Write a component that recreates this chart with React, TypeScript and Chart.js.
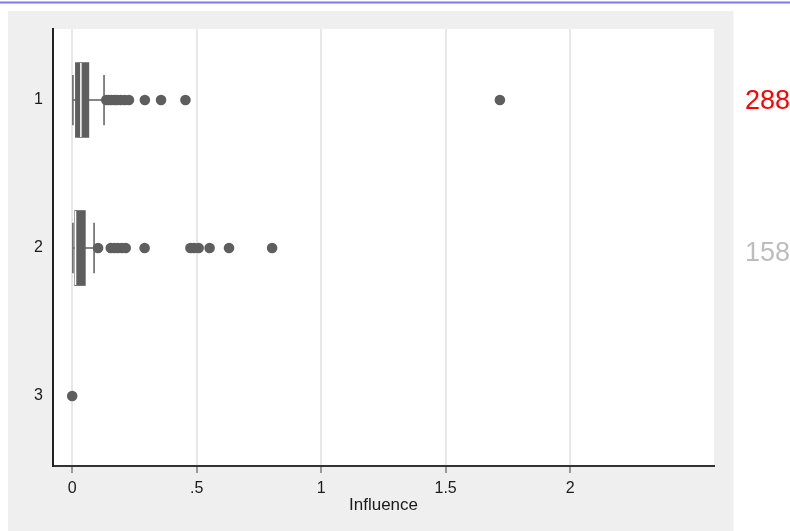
import React, { useEffect, useRef } from 'react';
import { Chart, registerables } from 'chart.js';

Chart.register(...registerables);

// ---- data ----
const categories = [1, 2, 3];
const yTickLabels = ['1', '2', '3'];
const whiskerLow = [0.003, 0.003, 0];
const q1 = [0.013, 0.01, 0];
const median = [0.035, 0.0135, 0];
const q3 = [0.067, 0.053, 0];
const whiskerHigh = [0.128, 0.088, 0];
const outliers1 = [0.137, 0.147, 0.157, 0.17, 0.18, 0.195, 0.211, 0.228, 0.292, 0.357, 0.455, 1.718];
const outliers2 = [0.104, 0.155, 0.17, 0.184, 0.2, 0.215, 0.291, 0.475, 0.49, 0.508, 0.552, 0.63, 0.803];
const outliers3 = [0];
const xTickValues = [0, 0.5, 1, 1.5, 2];
const xTickLabels = ['0', '.5', '1', '1.5', '2'];
const sideLabels = ['288', '158'];
const sideColors = ['#ff0000', '#bdbdbd'];

const FONT = '"Liberation Sans", Arial, Helvetica, sans-serif';
const BOX = '#5e5e5e';

const backgroundPlugin = {
  id: 'bg',
  beforeDraw(chart: any) {
    const { ctx, chartArea } = chart;
    ctx.save();
    ctx.fillStyle = '#ffffff';
    ctx.fillRect(0, 0, chart.width, chart.height);
    ctx.fillStyle = '#7b7bee';
    ctx.fillRect(0, 1.5, chart.width, 2);
    ctx.fillStyle = '#efefef';
    ctx.fillRect(8, 11, 725.5, chart.height - 11);
    ctx.fillStyle = '#ffffff';
    ctx.fillRect(chartArea.left, chartArea.top, chartArea.right - chartArea.left, chartArea.bottom - chartArea.top);
    ctx.restore();
  },
};

const whiskerPlugin = {
  id: 'whiskers',
  beforeDatasetsDraw(chart: any) {
    const { ctx } = chart;
    const xs = chart.scales.x;
    const ys = chart.scales.y;
    ctx.save();
    ctx.strokeStyle = BOX;
    ctx.lineWidth = 1.5;
    categories.forEach((c, i) => {
      if (whiskerHigh[i] === whiskerLow[i]) return;
      const y = ys.getPixelForValue(c);
      const xl = xs.getPixelForValue(whiskerLow[i]);
      const xh = xs.getPixelForValue(whiskerHigh[i]);
      const half = Math.abs(ys.getPixelForValue(c + 0.17) - y);
      ctx.beginPath();
      ctx.moveTo(xl, y);
      ctx.lineTo(xh, y);
      ctx.moveTo(xl, y - half);
      ctx.lineTo(xl, y + half);
      ctx.moveTo(xh, y - half);
      ctx.lineTo(xh, y + half);
      ctx.stroke();
    });
    ctx.restore();
  },
  afterDatasetsDraw(chart: any) {
    const { ctx } = chart;
    const xs = chart.scales.x;
    const ys = chart.scales.y;
    ctx.save();
    ctx.strokeStyle = '#ffffff';
    ctx.lineWidth = 1.5;
    categories.forEach((c, i) => {
      if (q3[i] === q1[i]) return;
      const y = ys.getPixelForValue(c);
      const half = Math.abs(ys.getPixelForValue(c + 0.25) - y);
      const xm = xs.getPixelForValue(median[i]);
      ctx.beginPath();
      ctx.moveTo(xm, y - half);
      ctx.lineTo(xm, y + half);
      ctx.stroke();
    });
    ctx.restore();
  },
};

const sideLabelPlugin = {
  id: 'sideLabels',
  afterDraw(chart: any) {
    const { ctx } = chart;
    const ys = chart.scales.y;
    const offsets = [2, 6];
    ctx.save();
    ctx.font = `27px ${FONT}`;
    ctx.textAlign = 'left';
    ctx.textBaseline = 'middle';
    sideLabels.forEach((t, i) => {
      ctx.fillStyle = sideColors[i];
      ctx.fillText(t, 745, ys.getPixelForValue(categories[i]) + offsets[i]);
    });
    ctx.restore();
  },
};

export default function App() {
  const ref = useRef<HTMLCanvasElement>(null);

  useEffect(() => {
    document.body.style.margin = '0';
    Chart.defaults.font.family = FONT;
    const outlierData = [
      ...outliers1.map((x) => ({ x, y: categories[0] })),
      ...outliers2.map((x) => ({ x, y: categories[1] })),
      ...outliers3.map((x) => ({ x, y: categories[2] })),
    ];
    const boxData = categories
      .map((c, i) => (q3[i] > q1[i] ? { x: [q1[i], q3[i]], y: c } : null))
      .filter((d) => d !== null);
    const chart = new Chart(ref.current as HTMLCanvasElement, {
      type: 'bar',
      data: {
        datasets: [
          {
            type: 'bar',
            indexAxis: 'y',
            data: boxData as any,
            backgroundColor: BOX,
            borderWidth: 0,
            borderSkipped: false,
            barThickness: 75,
          } as any,
          {
            type: 'scatter',
            data: outlierData,
            backgroundColor: BOX,
            borderWidth: 0,
            pointRadius: 5.3,
          } as any,
        ],
      },
      options: {
        responsive: false,
        maintainAspectRatio: false,
        animation: false,
        indexAxis: 'y',
        layout: { padding: { left: 0, right: 76, top: 29, bottom: 0 } },
        plugins: { legend: { display: false }, tooltip: { enabled: false } },
        scales: {
          x: {
            type: 'linear',
            min: -0.077,
            max: 2.578,
            offset: false,
            afterBuildTicks: (s: any) => {
              s.ticks = xTickValues.map((v) => ({ value: v }));
            },
            afterFit: (s: any) => {
              s.height = 65;
            },
            ticks: {
              callback: (_v: any, i: number) => xTickLabels[i],
              font: { size: 16, family: FONT },
              color: '#1a1a1a',
              padding: 6,
              maxRotation: 0,
              autoSkip: false,
            },
            grid: {
              color: '#e8e8e8',
              lineWidth: 2,
              tickLength: 7,
              tickColor: '#444444',
              tickWidth: 1,
              offset: false,
            },
            border: { display: true, color: '#333333', width: 2 },
            title: {
              display: true,
              text: 'Influence',
              font: { size: 17, family: FONT },
              color: '#1a1a1a',
              padding: { top: 0, bottom: 15 },
            },
          },
          y: {
            type: 'linear',
            min: 0.52,
            max: 3.473,
            reverse: true,
            offset: false,
            afterBuildTicks: (s: any) => {
              s.ticks = categories.map((v) => ({ value: v }));
            },
            afterFit: (s: any) => {
              s.width = 53;
            },
            ticks: {
              callback: (_v: any, i: number) => yTickLabels[i],
              font: { size: 16, family: FONT },
              color: '#1a1a1a',
              padding: 10,
            },
            grid: { display: false, drawTicks: false, offset: false },
            border: { display: true, color: '#222222', width: 2 },
          },
        },
      } as any,
      plugins: [backgroundPlugin, whiskerPlugin, sideLabelPlugin],
    });
    return () => chart.destroy();
  }, []);

  return (
    <div style={{ position: 'absolute', left: 0, top: 0, width: 790, height: 531 }}>
      <canvas ref={ref} width={790} height={531} style={{ display: 'block', width: 790, height: 531 }} />
    </div>
  );
}
